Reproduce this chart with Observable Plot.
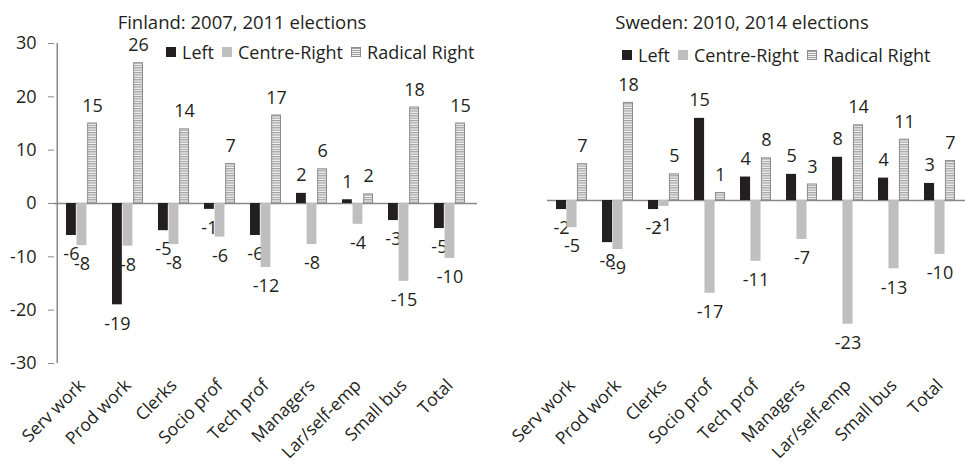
<!DOCTYPE html>
<html>
<head>
<meta charset="utf-8">
<script src="https://cdn.jsdelivr.net/npm/d3@7"></script>
<script src="https://cdn.jsdelivr.net/npm/@observablehq/plot@0.6"></script>
<style>
  html, body { margin: 0; padding: 0; background: #fff; }
  body { width: 965px; height: 466px; position: relative; overflow: hidden; font-family: "Open Sans", sans-serif; color: #231f20; }
  .panel { position: absolute; top: 0; }
  .title { position: absolute; font-size: 18.5px; white-space: nowrap; transform: translate(-50%, -50%); }
  .legend { position: absolute; display: flex; align-items: center; font-size: 18px; white-space: nowrap; transform: translateY(-50%); }
  .legend .item { display: flex; align-items: center; margin-right: 8px; }
  .legend .sw { width: 10px; height: 10px; margin-right: 6px; box-sizing: border-box; }
</style>
</head>
<body>
<svg width="0" height="0" style="position:absolute">
  <defs>
    <pattern id="hstripe" width="4" height="2.4" patternUnits="userSpaceOnUse">
      <rect width="4" height="2.4" fill="#f4f4f4"></rect>
      <rect width="4" height="1.2" fill="#a0a0a0"></rect>
    </pattern>
  </defs>
</svg>
<div id="fin" class="panel" style="left:0px"></div>
<div id="swe" class="panel" style="left:480px"></div>
<div class="title" style="left:242px; top:21px">Finland: 2007, 2011 elections</div>
<div class="title" style="left:742px; top:21px">Sweden: 2010, 2014 elections</div>
<div id="legFin" class="legend" style="left:166px; top:52px"></div>
<div id="legSwe" class="legend" style="left:622px; top:55px"></div>
<script>
// ---- data ----
const categories = ["Serv work", "Prod work", "Clerks", "Socio prof", "Tech prof", "Managers", "Lar/self-emp", "Small bus", "Total"];
const seriesNames = ["Left", "Centre-Right", "Radical Right"];
const seriesColors = ["#231f20", "#bfbfbf", "url(#hstripe)"];

const finLeft = [-6.0, -19.0, -5.1, -1.1, -6.0, 1.9, 0.7, -3.2, -4.7];
const finCentreRight = [-7.9, -8.0, -7.7, -6.3, -12.0, -7.7, -3.9, -14.6, -10.3];
const finRadicalRight = [15.0, 26.3, 13.9, 7.4, 16.5, 6.4, 1.7, 18.0, 15.0];

const sweLeft = [-1.7, -7.9, -1.7, 15.4, 4.4, 4.9, 8.1, 4.2, 3.2];
const sweCentreRight = [-5.1, -9.2, -1.1, -17.4, -11.4, -7.3, -23.2, -12.8, -10.1];
const sweRadicalRight = [6.8, 18.3, 4.9, 1.4, 7.9, 3.0, 14.1, 11.4, 7.4];

const yTicks = [-30, -20, -10, 0, 10, 20, 30];

// ---- build ----
const FONT = "Open Sans";
const FS = 18;
const FS_X = 17.5;
const PAD_IN = 0.32, PAD_OUT = 0.19;

function rows(values) {
  return categories.map((c, i) => ({cat: c, value: values[i], label: String(Math.round(values[i]))}));
}

function makePanel({width, height, ml, mr, mt, mb, series, showY, xPad}) {
  const band = d3.scaleBand().domain(categories).range([ml, width - mr]).paddingInner(PAD_IN).paddingOuter(PAD_OUT);
  const bw = band.bandwidth();
  const step = band.step();
  const sub = bw / 3;
  const marks = [];
  series.forEach((vals, k) => {
    const data = rows(vals);
    const insetLeft = k * sub;
    const insetRight = (2 - k) * sub;
    const isPattern = k === 2;
    marks.push(Plot.barY(data, {
      x: "cat", y: "value",
      fill: seriesColors[k],
      stroke: isPattern ? "#8c8c8c" : "none",
      strokeWidth: 1,
      insetLeft: insetLeft + (isPattern ? 0.5 : 0),
      insetRight: insetRight + (isPattern ? 0.5 : 0)
    }));
    const dx = (k - 1) * sub;
    marks.push(Plot.text(data.filter(d => d.value >= 0), {
      x: "cat", y: "value", text: "label", dx, dy: -12,
      lineAnchor: "bottom", fontSize: FS, fill: "#231f20"
    }));
    marks.push(Plot.text(data.filter(d => d.value < 0), {
      x: "cat", y: "value", text: "label", dx, dy: 12,
      lineAnchor: "top", fontSize: FS, fill: "#231f20"
    }));
  });
  marks.unshift(Plot.ruleY([0], {stroke: "#898989", strokeWidth: 1.5}));
  if (showY) {
    marks.unshift(Plot.ruleX([categories[0]], {x: d => d, dx: -(bw / 2 + PAD_OUT * step), y1: -30, y2: 30, stroke: "#898989", strokeWidth: 1.5}));
    marks.push(Plot.axisY({ticks: yTicks, tickSize: 6, tickPadding: 12, stroke: "#898989", tickFormat: d => String(d), fontSize: FS, fill: "#231f20"}));
  }
  marks.push(Plot.axisX({tickSize: 0, tickPadding: xPad, tickRotate: -45, fontSize: FS_X, fill: "#231f20"}));
  return Plot.plot({
    width, height,
    marginLeft: ml, marginRight: mr, marginTop: mt, marginBottom: mb,
    style: {fontFamily: FONT, fontSize: FS + "px", color: "#231f20", background: "transparent", overflow: "visible"},
    x: {domain: categories, paddingInner: PAD_IN, paddingOuter: PAD_OUT, axis: null, label: null},
    y: {domain: [-30, 30], axis: null, label: null},
    marks
  });
}

document.getElementById("fin").appendChild(makePanel({
  width: 480, height: 466, ml: 54, mr: 3, mt: 43, mb: 103,
  series: [finLeft, finCentreRight, finRadicalRight], showY: true, xPad: 19
}));
document.getElementById("swe").appendChild(makePanel({
  width: 485, height: 466, ml: 67, mr: 0, mt: 40, mb: 106,
  series: [sweLeft, sweCentreRight, sweRadicalRight], showY: false, xPad: 22
}));

function legend(el) {
  seriesNames.forEach((name, k) => {
    const item = document.createElement("div");
    item.className = "item";
    const sw = document.createElement("div");
    sw.className = "sw";
    if (k === 2) {
      sw.style.border = "1px solid #8c8c8c";
      sw.style.background = "repeating-linear-gradient(to bottom, #a0a0a0 0px, #a0a0a0 1px, #f4f4f4 1px, #f4f4f4 2px)";
    } else {
      sw.style.background = seriesColors[k];
    }
    const t = document.createElement("span");
    t.textContent = name;
    item.appendChild(sw); item.appendChild(t);
    el.appendChild(item);
  });
}
legend(document.getElementById("legFin"));
legend(document.getElementById("legSwe"));
</script>
</body>
</html>
